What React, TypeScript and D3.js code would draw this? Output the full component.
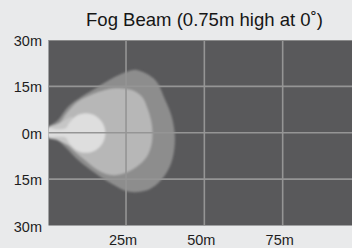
import React from "react";
import * as d3 from "d3";

const title = "Fog Beam (0.75m high at 0˚)";
const xTicks = [25, 50, 75];
const xTickLabels = ["25m", "50m", "75m"];
const yTicks = [30, 15, 0, -15, -30];
const yTickLabels = ["30m", "15m", "0m", "15m", "30m"];

// contour outlines: [distance ahead (m), lateral offset (m)]
const outerZone: [number, number][] = [
  [0.1, 1.5], [3.3, 4.1], [6.5, 8.4], [10.9, 11.7], [16.1, 14.9], [21.5, 18.1],
  [25.6, 19.8], [28.4, 20.3], [34.3, 17.1], [37.5, 10.6], [39.6, 5.2],
  [40.6, -1.3], [40.0, -7.8], [38.4, -12.1], [35.2, -16.3], [31.1, -18.8],
  [25.6, -19.0], [20.4, -16.5], [15.1, -13.0], [9.7, -8.8], [5.5, -4.5],
  [2.3, -1.7], [0.1, -0.7],
];
const middleZone: [number, number][] = [
  [0.1, 0.9], [3.3, 2.5], [6.1, 6.4], [9.7, 10.1], [15.1, 12.8], [19.3, 14.1],
  [22.0, 14.4], [26.8, 13.8], [30.0, 11.7], [32.0, 7.4], [33.3, 2.0],
  [33.2, -3.3], [31.6, -7.8], [28.4, -11.0], [24.7, -13.0], [20.4, -13.7],
  [16.1, -12.1], [11.9, -8.8], [8.1, -5.6], [5.5, -2.9], [2.9, -1.7], [0.1, -1.1],
];
const haloZone: [number, number][] = [
  [0.1, 1.8], [2.5, 2.6], [5.0, 3.8], [8.0, 5.0], [8.0, -4.2], [5.0, -3.2],
  [2.5, -2.2], [0.1, -1.5],
];
const innerZone: [number, number][] = [
  [0, 1.4], [3.5, 1.1], [5.8, 1.5], [6.83, 3.1], [9.1, 5.44], [12.2, 6.3],
  [15.3, 5.44], [17.57, 3.1], [18.4, -0.1], [17.57, -3.3], [15.3, -5.64],
  [12.2, -6.5], [9.1, -5.64], [6.83, -3.3], [5.8, -1.6], [3.5, -1.3], [0, -1.3],
];

const W = 352;
const H = 248;
const plotLeft = 48.5;
const plotTop = 40;
const plotBottom = 225.5;
const plotRight = 352;

export default function App() {
  const x = d3.scaleLinear().domain([0, 100]).range([47.7, 361]);
  const y = d3.scaleLinear().domain([30, -30]).range([plotTop, plotBottom]);
  const line = d3
    .line<[number, number]>()
    .x((d) => x(d[0]))
    .y((d) => y(d[1]))
    .curve(d3.curveCatmullRomClosed.alpha(0.5));

  const font = "'Liberation Sans', Arial, sans-serif";
  return (
    <svg
      width={W}
      height={H}
      style={{ position: "absolute", left: 0, top: 0, background: "#e9eaeb" }}
    >
      <defs>
        <clipPath id="plotClip">
          <rect x={plotLeft} y={plotTop} width={plotRight - plotLeft} height={plotBottom - plotTop} />
        </clipPath>
        <filter id="soft" x="-10%" y="-10%" width="120%" height="120%">
          <feGaussianBlur stdDeviation="0.8" />
        </filter>
      </defs>
      <rect x={0} y={0} width={W} height={H} fill="#e9eaeb" />
      <rect
        x={plotLeft}
        y={plotTop}
        width={plotRight - plotLeft}
        height={plotBottom - plotTop}
        fill="#59595b"
      />
      <g clipPath="url(#plotClip)">
        <g filter="url(#soft)">
          <path d={line(outerZone) || ""} fill="#8d8d8d" />
          <path d={line(middleZone) || ""} fill="#b7b7b7" />
          <path d={line(haloZone) || ""} fill="#c6c6c6" />
          <path d={line(innerZone) || ""} fill="#dedede" />
        </g>
        {xTicks.map((t) => (
          <line key={"vx" + t} x1={x(t)} x2={x(t)} y1={plotTop} y2={plotBottom} stroke="#959595" strokeWidth={1.6} />
        ))}
        {yTicks.slice(1, -1).map((t, i) => (
          <line key={"hy" + i} x1={plotLeft} x2={plotRight} y1={y(t)} y2={y(t)} stroke="#959595" strokeWidth={1.6} />
        ))}
        <line x1={plotLeft} x2={plotRight} y1={plotTop + 0.5} y2={plotTop + 0.5} stroke="#8a8a8a" strokeWidth={1} />
      </g>
      <text
        x={204.5}
        y={26}
        textAnchor="middle"
        fontFamily={font}
        fontSize={18.5}
        fill="#161616"
        textLength={237}
        lengthAdjust="spacingAndGlyphs"
      >
        {title}
      </text>
      {yTicks.map((t, i) => (
        <text
          key={"yl" + i}
          x={42}
          y={y(t) + 6}
          textAnchor="end"
          fontFamily={font}
          fontSize={14.5}
          fill="#1e1e1e"
        >
          {yTickLabels[i]}
        </text>
      ))}
      {xTicks.map((t, i) => (
        <text
          key={"xl" + t}
          x={x(t) - 3}
          y={245}
          textAnchor="middle"
          fontFamily={font}
          fontSize={14.5}
          fill="#1e1e1e"
        >
          {xTickLabels[i]}
        </text>
      ))}
    </svg>
  );
}
